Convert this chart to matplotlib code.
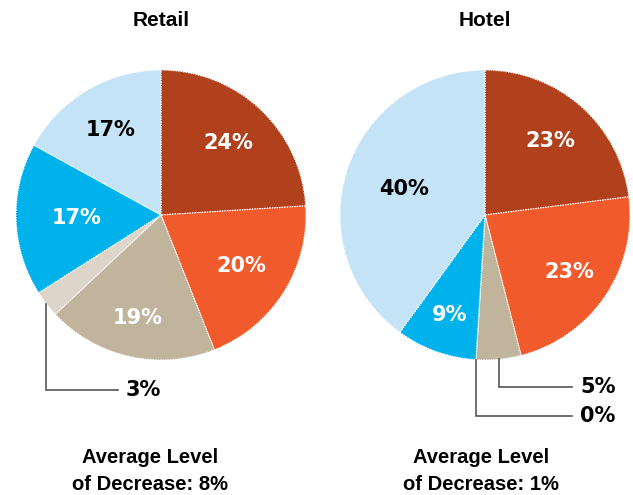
import numpy as np
import matplotlib.pyplot as plt

# data
titles = ['Retail', 'Hotel']
retail_vals = [24, 20, 19, 3, 17, 17]
hotel_vals = [23, 23, 5, 0, 9, 40]
retail_avg = '8%'
hotel_avg = '1%'

colors = ['#B1411C', '#F15A2B', '#C1B49C', '#DDD5CA', '#00B2EC', '#C4E3F6']
# label style per wedge: (inside?, fraction of radius, colour)
retail_lbl = [(True, 0.68, 'white'), (True, 0.66, 'white'), (True, 0.73, 'white'),
              (False, 0, 'black'), (True, 0.58, 'white'), (True, 0.68, 'black')]
hotel_lbl = [(True, 0.68, 'white'), (True, 0.70, 'white'), (False, 0, 'black'),
             (False, 0, 'black'), (True, 0.73, 'white'), (True, 0.59, 'black')]

W, H = 633, 495
fig = plt.figure(figsize=(6.33, 4.95), dpi=100)
ax = fig.add_axes([0, 0, 1, 1])
ax.set_xlim(0, W)
ax.set_ylim(0, H)
ax.set_aspect('equal')
ax.axis('off')

cond = ['Liberation Sans', 'DejaVu Sans']


def draw_pie(vals, lbls, cx, cy, r, title, avg, leaders, avg_x):
    wedges, _ = ax.pie(vals, colors=colors, startangle=90, counterclock=False,
                       center=(cx, cy), radius=r, frame=True,
                       wedgeprops=dict(edgecolor='white', linewidth=0.9, linestyle=(0, (1, 1))))
    for w, v, (inside, frac, c) in zip(wedges, vals, lbls):
        mid = np.deg2rad((w.theta1 + w.theta2) / 2)
        if inside:
            ax.text(cx + frac * r * np.cos(mid), cy + frac * r * np.sin(mid), f'{v}%',
                    ha='center', va='center', color=c, fontsize=15, fontweight='heavy')
    # leader lines for small slices
    for idx, ybot, xend in leaders:
        w = wedges[idx]
        mid = np.deg2rad((w.theta1 + w.theta2) / 2)
        x0 = cx + r * np.cos(mid)
        y0 = cy + r * np.sin(mid)
        ax.plot([x0, x0, xend], [y0, ybot, ybot], color='#555555', lw=1.2,
                solid_joinstyle='miter')
        ax.text(xend + 8, ybot, f'{vals[idx]}%', ha='left', va='center',
                color='black', fontsize=15, fontweight='heavy')
    ax.text(cx, H - 21, title, ha='center', va='center', fontsize=15,
            fontweight='bold', family=cond)
    ax.text(avg_x, H - 471, 'Average Level\nof Decrease: ' + avg, ha='center',
            va='center', fontsize=14.5, fontweight='bold', family=cond, linespacing=1.55)


draw_pie(retail_vals, retail_lbl, 161, H - 215, 145, titles[0], retail_avg,
         [(3, H - 390, 118)], 150)
draw_pie(hotel_vals, hotel_lbl, 485, H - 215, 145, titles[1], hotel_avg,
         [(2, H - 387, 572), (3, H - 416, 572)], 481)

ax.set_xlim(0, W)
ax.set_ylim(0, H)
ax.axis('off')

plt.savefig('out.png', dpi=100)
